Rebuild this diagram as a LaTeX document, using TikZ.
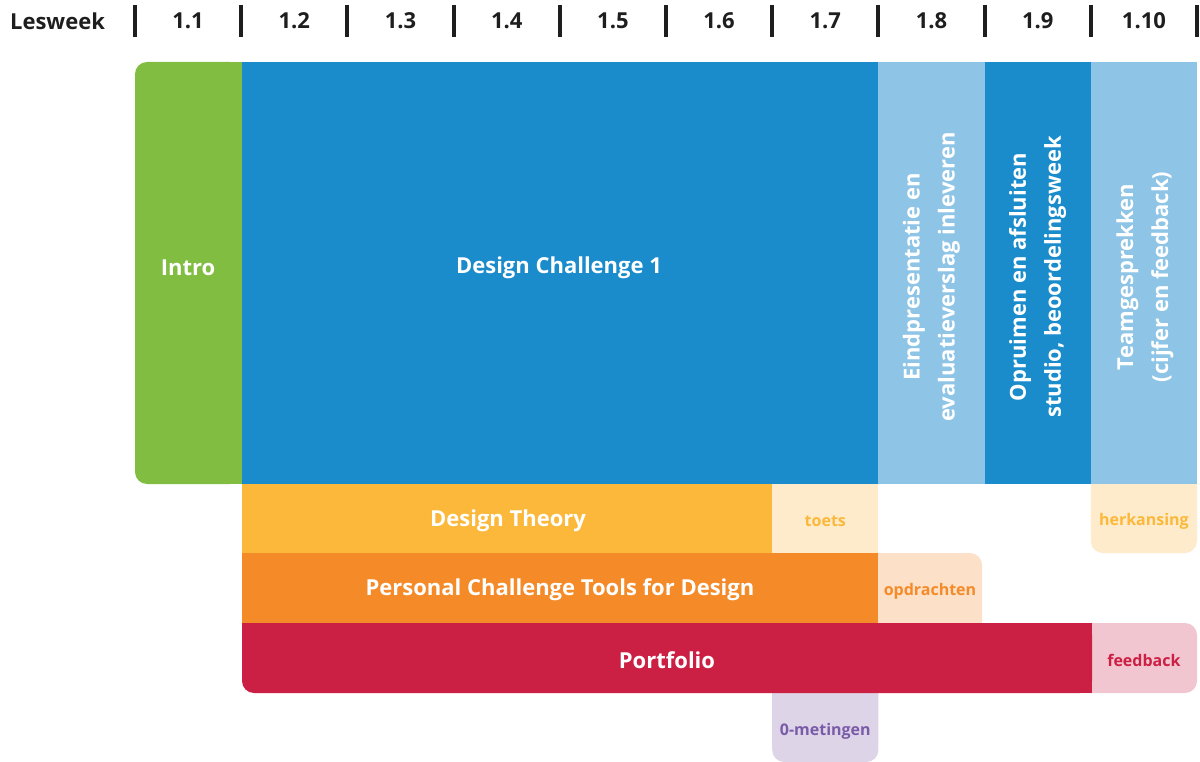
\documentclass[tikz,border=0pt]{standalone}
\usepackage{fontspec}
\setmainfont{Open Sans}
\usetikzlibrary{positioning}
\definecolor{introgreen}{HTML}{80BD41}
\definecolor{dcblue}{HTML}{1A8BCB}
\definecolor{lightblue}{HTML}{8EC4E6}
\definecolor{theoryyellow}{HTML}{FBB83A}
\definecolor{theorylight}{HTML}{FEEBCB}
\definecolor{pctorange}{HTML}{F48A28}
\definecolor{pctlight}{HTML}{FCE0C8}
\definecolor{portred}{HTML}{CC1F44}
\definecolor{portlight}{HTML}{F2C6D0}
\definecolor{meetpurple}{HTML}{7A5BA8}
\definecolor{meetlight}{HTML}{DDD4E8}
\definecolor{headdark}{HTML}{1E1E1E}

\tikzset{
  headlabel/.style={font=\bfseries\fontsize{22}{26}\selectfont, text=headdark},
  blocklabel/.style={font=\bfseries\fontsize{22}{26}\selectfont, text=white},
  sidelabel/.style={font=\bfseries\fontsize{22}{35}\selectfont, text=white, align=center, rotate=90},
  smalllabel/.style={font=\bfseries\fontsize{16}{19}\selectfont},
  weekbar/.style={line width=4pt, headdark},
}

\begin{document}
\begin{tikzpicture}[x=1pt, y=-1pt]
\useasboundingbox (0,0) rectangle (1200,762);
% header
\node[headlabel] (lesweek) at (57.5,21) {Lesweek};
\foreach \i in {0,...,10}
  \draw[weekbar] (135+\i*106.2,5) -- (135+\i*106.2,37);
\foreach \w [count=\i] in {1.1,1.2,1.3,1.4,1.5,1.6,1.7,1.8,1.9,1.10}
  \node[headlabel] (week\i) at (135+\i*106.2-53.1,21) {\w};
%============
% light boxes first
\fill[theorylight, rounded corners=12pt] (1090.8,470) rectangle (1197,553);
\fill[pctlight, rounded corners=12pt] (860,553) rectangle (982,640);
\fill[meetlight, rounded corners=12pt] (772.2,680) rectangle (878.4,762);
\fill[portlight, rounded corners=12pt] (1070,623) rectangle (1197,693);
%============
% main blocks
\fill[introgreen, rounded corners=12pt] (135,62) rectangle (242,484);
\fill[introgreen] (200,62) rectangle (242,484);
\fill[dcblue] (242,62) rectangle (878.4,484);
\fill[lightblue] (878.4,62) rectangle (984.6,484);
\fill[dcblue] (984.6,62) rectangle (1090.8,484);
\fill[lightblue] (1090.8,62) rectangle (1197,484);
\node[blocklabel] (intro) at (188,268) {Intro};
\node[blocklabel] (dc) at (559,268) {Design Challenge 1};
\node[sidelabel] (eind) at (931.5,277) {Eindpresentatie en\\evaluatieverslag inleveren};
\node[sidelabel] (opruim) at (1037.7,277) {Opruimen en afsluiten\\studio, beoordelingsweek};
\node[sidelabel] (team) at (1145,277) {Teamgesprekken\\(cijfer en feedback)};
%============
% design theory
\fill[theoryyellow] (242,484) rectangle (772.2,553);
\fill[theorylight] (772.2,484) rectangle (878.4,553);
\node[blocklabel] (theory) at (508,521) {Design Theory};
\node[smalllabel, text=theoryyellow] (toets) at (825.3,521) {toets};
\node[smalllabel, text=theoryyellow] (herk) at (1143.9,521) {herkansing};
%============
% personal challenge
\fill[pctorange] (242,553) rectangle (878.4,623);
\node[blocklabel] (pct) at (560,590) {Personal Challenge Tools for Design};
\node[smalllabel, text=pctorange] (opdr) at (930,591) {opdrachten};
%============
% portfolio
\fill[portred, rounded corners=12pt] (242,623) rectangle (1092,693);
\fill[portred] (242,623) rectangle (1092,670);
\fill[portred] (1060,623) rectangle (1092,693);
\node[blocklabel] (port) at (667,660) {Portfolio};
\node[smalllabel, text=portred] (feedb) at (1143.9,660) {feedback};
\node[smalllabel, text=meetpurple] (meting) at (825.3,731) {0-metingen};
\end{tikzpicture}
\end{document}
